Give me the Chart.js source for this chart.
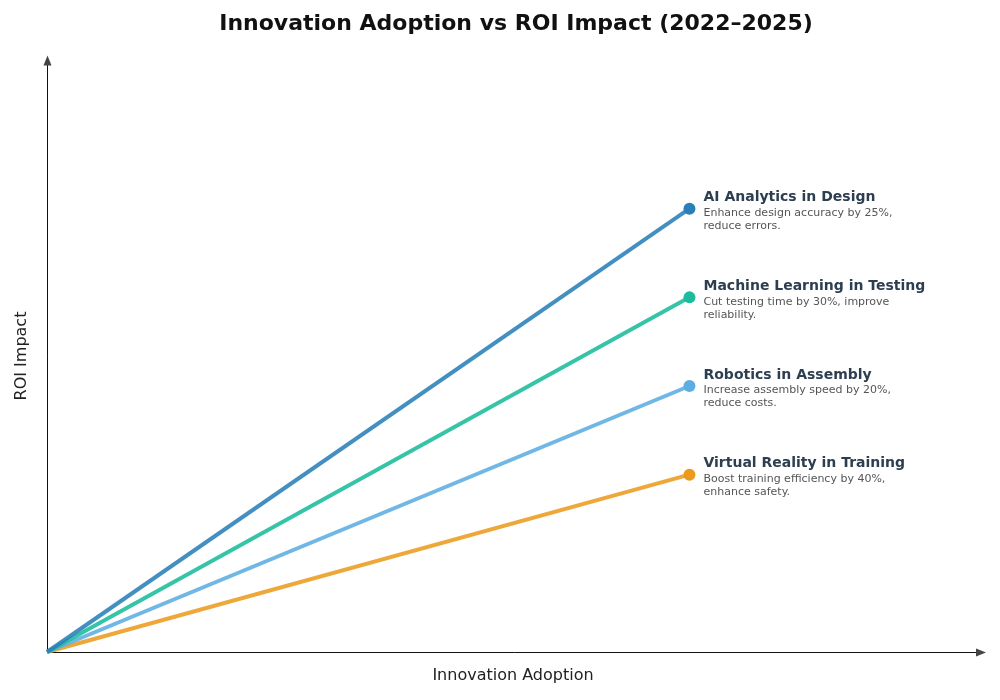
<!DOCTYPE html>
<html>
<head>
<meta charset="utf-8">
<script src="https://cdn.jsdelivr.net/npm/chart.js@4.4.0/dist/chart.umd.min.js"></script>
<style>
  html, body { margin: 0; padding: 0; background: #fff; }
  #wrap { width: 1000px; height: 700px; }
</style>
</head>
<body>
<div id="wrap"><canvas id="chart" width="1000" height="700"></canvas></div>
<script>
// Innovations plotted as rays from the origin
const innovations = ['AI Analytics in Design', 'Machine Learning in Testing', 'Robotics in Assembly', 'Virtual Reality in Training'];
const descriptions = [
    ['Enhance design accuracy by 25%,', 'reduce errors.'],
    ['Cut testing time by 30%, improve', 'reliability.'],
    ['Increase assembly speed by 20%,', 'reduce costs.'],
    ['Boost training efficiency by 40%,', 'enhance safety.']
];
const adoption = [1, 1, 1, 1];
const roi = [0.75, 0.6, 0.45, 0.3];

const lineColors = ['rgba(41,128,185,0.88)', 'rgba(26,188,156,0.88)', 'rgba(93,173,226,0.88)', 'rgba(236,155,30,0.88)'];
const pointColors = ['#2a7fb8', '#1abc9c', '#5dade2', '#eb9a1c'];

const FONT = "'DejaVu Sans', sans-serif";

// axes with arrowheads, axis titles and the text next to each end point
const decorations = {
    id: 'decorations',
    beforeDatasetsDraw(chart) {
        const { ctx, chartArea: a } = chart;
        const left = Math.round(a.left) + 0.5;
        const bottom = Math.round(a.bottom) + 0.5;
        ctx.save();
        ctx.strokeStyle = '#111';
        ctx.lineWidth = 1;
        ctx.beginPath();
        ctx.moveTo(left, bottom);
        ctx.lineTo(left, a.top + 4);
        ctx.moveTo(left, bottom);
        ctx.lineTo(a.right - 4, bottom);
        ctx.stroke();
        ctx.fillStyle = '#444';
        ctx.beginPath();
        ctx.moveTo(left, a.top - 2);
        ctx.lineTo(left - 4, a.top + 8);
        ctx.lineTo(left + 4, a.top + 8);
        ctx.closePath();
        ctx.fill();
        ctx.beginPath();
        ctx.moveTo(a.right + 1, bottom);
        ctx.lineTo(a.right - 9, bottom - 4);
        ctx.lineTo(a.right - 9, bottom + 4);
        ctx.closePath();
        ctx.fill();

        ctx.fillStyle = '#222';
        ctx.font = '16px ' + FONT;
        ctx.textAlign = 'center';
        ctx.textBaseline = 'middle';
        ctx.fillText('Innovation Adoption', 513, 676);
        ctx.translate(22, 356);
        ctx.rotate(-Math.PI / 2);
        ctx.fillText('ROI Impact', 0, 0);
        ctx.restore();
    },
    afterDatasetsDraw(chart) {
        const { ctx } = chart;
        ctx.save();
        ctx.textAlign = 'left';
        ctx.textBaseline = 'middle';
        chart.data.datasets.forEach((ds, i) => {
            const pt = chart.getDatasetMeta(i).data[1];
            const x = pt.x + 14;
            ctx.fillStyle = '#2c3e50';
            ctx.font = 'bold 14px ' + FONT;
            ctx.fillText(innovations[i], x, pt.y - 11);
            ctx.fillStyle = '#555';
            ctx.font = '11px ' + FONT;
            descriptions[i].forEach((line, j) => ctx.fillText(line, x, pt.y + 4.5 + j * 13));
        });
        ctx.restore();
    }
};

new Chart(document.getElementById('chart'), {
    type: 'line',
    data: {
        datasets: innovations.map((name, i) => ({
            label: name,
            data: [{ x: 0, y: 0 }, { x: adoption[i], y: roi[i] }],
            borderColor: lineColors[i],
            borderWidth: 4,
            pointRadius: [0, 6],
            pointHoverRadius: [0, 6],
            pointBackgroundColor: pointColors[i],
            pointBorderWidth: 0,
            clip: false
        }))
    },
    options: {
        responsive: false,
        animation: false,
        layout: { padding: { left: 47, right: 15, top: 0, bottom: 48 } },
        plugins: {
            legend: { display: false },
            tooltip: { enabled: false },
            title: {
                display: true,
                text: 'Innovation Adoption vs ROI Impact (2022–2025)',
                color: '#111',
                font: { family: FONT, size: 22, weight: 'bold' },
                padding: { top: 11, bottom: 20 }
            }
        },
        scales: {
            x: { type: 'linear', display: false, min: 0, max: 1.46 },
            y: { display: false, min: 0, max: 1.006 }
        }
    },
    plugins: [decorations]
});
</script>
</body>
</html>
